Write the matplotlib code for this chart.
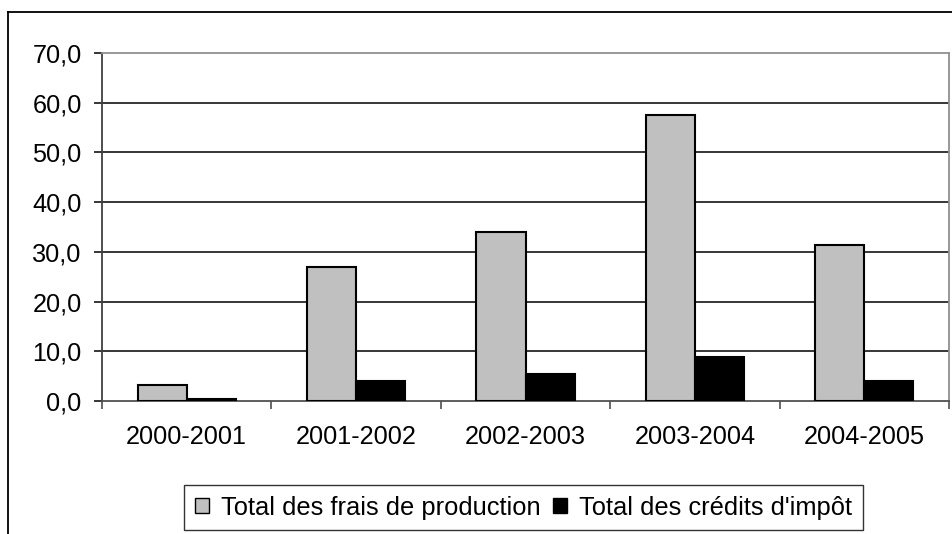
import matplotlib
matplotlib.use("Agg")
import matplotlib.pyplot as plt
from matplotlib.lines import Line2D
from matplotlib.ticker import FuncFormatter, FixedLocator
import numpy as np

categories = ["2000-2001", "2001-2002", "2002-2003", "2003-2004", "2004-2005"]
frais_production = [3.2, 26.9, 33.9, 57.5, 31.4]
credits_impot = [0.4, 4.1, 5.4, 8.9, 4.1]
series_labels = ["Total des frais de production", "Total des crédits d'impôt"]

plt.rcParams['font.family'] = ['Liberation Sans', 'DejaVu Sans']

fig = plt.figure(figsize=(9.53, 5.34), dpi=100)
ax = fig.add_axes([102/953, 1-401/534, (949-102)/953, (401-53)/534])

x = np.arange(len(categories))
w = 0.29
ax.bar(x - w/2, frais_production, width=w, color='#C0C0C0', edgecolor='black',
       linewidth=1.5, label=series_labels[0], zorder=3)
ax.bar(x + w/2, credits_impot, width=w, color='black', edgecolor='black',
       linewidth=1.5, label=series_labels[1], zorder=3)

ax.set_xlim(-0.5, len(categories) - 0.5)
ax.set_ylim(0, 70)
ax.set_yticks(np.arange(0, 71, 10))
ax.yaxis.set_major_formatter(FuncFormatter(lambda v, p: f"{v:.1f}".replace('.', ',')))
for yv in range(10, 70, 10):
    ax.axhline(yv, color='black', linewidth=1.1, zorder=1)

ax.xaxis.set_major_locator(FixedLocator(np.arange(-0.5, len(categories), 1.0)))
ax.xaxis.set_major_formatter(FuncFormatter(lambda v, p: ""))
ax.xaxis.set_minor_locator(FixedLocator(x))
ax.set_xticklabels(categories, minor=True)
ax.tick_params(axis='x', which='major', length=6, width=1.1, color='#404040', direction='out')
ax.tick_params(axis='x', which='minor', length=0, pad=17.5, labelsize=18.2)
ax.tick_params(axis='y', length=6, width=1.1, color='black', pad=8.6, labelsize=18.2)

for s in ['top', 'right']:
    ax.spines[s].set_color('#909090')
    ax.spines[s].set_linewidth(1.3)
ax.spines['left'].set_color('#404040')
ax.spines['left'].set_linewidth(1.3)
ax.spines['bottom'].set_color('#505050')
ax.spines['bottom'].set_linewidth(1.3)

leg = fig.legend(loc='center', bbox_to_anchor=(523.5/953, 1-507.5/534), ncol=2,
                 fontsize=18.4, frameon=True, fancybox=False, shadow=False,
                 handlelength=0.56, handleheight=0.56, handletextpad=0.47,
                 columnspacing=0.47, borderpad=0.42, borderaxespad=0)
leg.get_frame().set_edgecolor('black')
leg.get_frame().set_linewidth(1.0)
for h in leg.legend_handles:
    h.set_linewidth(1.0)

# outer chart border (left and top visible)
fig.add_artist(Line2D([8/953, 8/953], [0, 1-12/534], transform=fig.transFigure,
                      color='black', linewidth=1.3))
fig.add_artist(Line2D([8/953, 1], [1-12/534, 1-12/534], transform=fig.transFigure,
                      color='black', linewidth=1.3))

fig.savefig("out.png", dpi=100)
